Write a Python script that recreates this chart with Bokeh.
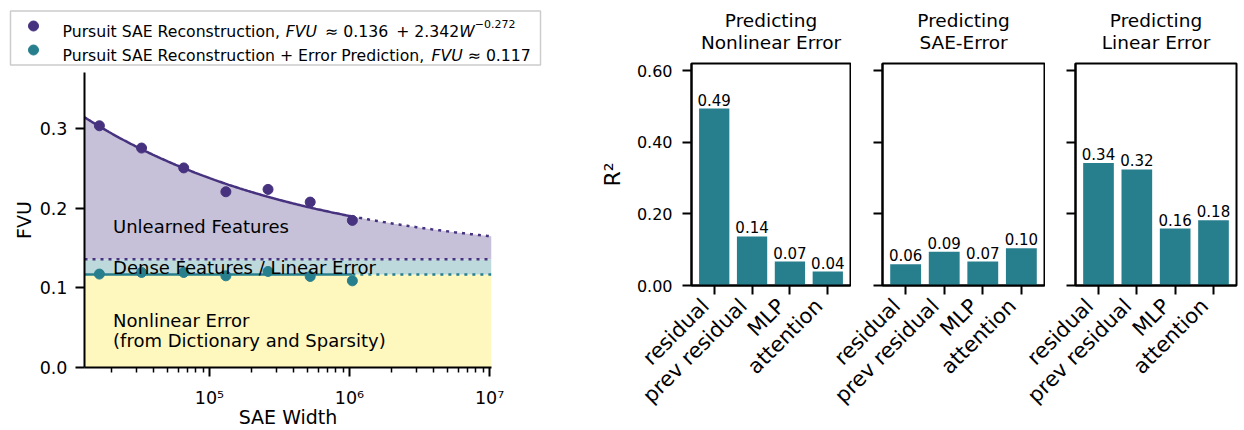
import numpy as np
from bokeh.plotting import figure
from bokeh.layouts import row, column
from bokeh.models import (Range1d, FixedTicker, NumeralTickFormatter,
                          CustomJSTickFormatter, LinearAxis)
from bokeh.core.properties import value
from bokeh.embed import file_html
from bokeh.resources import INLINE

# ---------------- data ----------------
sae_widths = [16384, 32768, 65536, 131072, 262144, 524288, 1048576]
fvu_sae = [0.304, 0.276, 0.251, 0.221, 0.224, 0.208, 0.185]
fvu_sae_err = [0.1175, 0.1195, 0.1195, 0.1153, 0.1208, 0.1145, 0.109]
fit_offset = 0.136
fit_coef = 2.342
fit_exp = -0.272
err_level = 0.117
x_min, x_max = 12823, 1.033e7

region_labels = ["Unlearned Features", "Dense Features / Linear Error",
                 "Nonlinear Error", "(from Dictionary and Sparsity)"]
region_label_y = [0.177, 0.1255, 0.0596, 0.0336]
region_label_x = 2.05e4

predictors = ["residual", "prev residual", "MLP", "attention"]
panel_titles = [("Predicting", "Nonlinear Error"), ("Predicting", "SAE-Error"),
                ("Predicting", "Linear Error")]
r2_nonlinear = [0.494, 0.137, 0.067, 0.039]
r2_sae_error = [0.059, 0.094, 0.067, 0.104]
r2_linear = [0.342, 0.324, 0.159, 0.182]

# ---------------- styles ----------------
FNAME = "DejaVu Sans"
FONT = value(FNAME)
PURPLE = "#46327e"
TEAL = "#277f8e"
FILL_PURPLE = "#c6c0d9"
FILL_TEAL = "#bed9dc"
FILL_YELLOW = "#fef7be"

CW = {' ': 0.318, ',': 0.318, '.': 0.318, '+': 0.838, '≈': 0.838, '−': 0.838,
      'P': 0.603, 'u': 0.634, 'r': 0.411, 's': 0.521, 'i': 0.278, 't': 0.392,
      'S': 0.635, 'A': 0.684, 'E': 0.632, 'R': 0.695, 'e': 0.615, 'c': 0.550,
      'o': 0.612, 'n': 0.634, 'd': 0.635, 'F': 0.575, 'V': 0.684, 'U': 0.732,
      'W': 0.989}
for _d in "0123456789":
    CW[_d] = 0.636


def tw(s, fs):
    return sum(CW.get(c, 0.6) for c in s) * fs


# ---------------- legend ----------------
leg = figure(width=560, height=70, x_range=Range1d(0, 560), y_range=Range1d(70, 0),
             output_backend="svg", toolbar_location=None,
             x_axis_type=None, y_axis_type=None, min_border=0)
leg.outline_line_color = None
leg.quad(left=[10], right=[540], top=[10.5], bottom=[64.5], fill_color="white",
         line_color="#cccccc", line_width=1.5)
leg.scatter(x=[33, 33], y=[25.5, 49.5], size=10, color=[PURPLE, TEAL])

LFS = 15.7
line1 = [("Pursuit SAE Reconstruction, ", "normal", LFS, 0, 0),
         ("FVU", "italic", LFS, 0, 0),
         (f" ≈ {fit_offset:.3f}", "normal", LFS, 0, 3),
         (f" + {fit_coef:.3f}", "normal", LFS, 0, 3),
         ("W", "italic", LFS, 0, 0),
         (f"−{abs(fit_exp):.3f}", "normal", LFS * 0.7, -7, 0)]
line2 = [("Pursuit SAE Reconstruction + Error Prediction, ", "normal", LFS, 0, 0),
         ("FVU", "italic", LFS, 0, 0),
         (f" ≈ {err_level:.3f}", "normal", LFS, 0, 0)]
for pieces, base in [(line1, 30.8), (line2, 55.0)]:
    x = 62.0
    for s, style, fs, dy, extra in pieces:
        lead = len(s) - len(s.lstrip(" "))
        txt = s.strip(" ")
        leg.text(x=[x + tw(" " * lead, fs) + extra], y=[base + dy], text=[txt],
                 text_font=FONT, text_font_style=style, text_font_size=f"{fs}px",
                 text_baseline="alphabetic", text_align="left", text_color="black")
        x += tw(s, fs) + extra

# ---------------- left plot ----------------
left = figure(width=560, height=360, x_axis_type="log",
              x_range=Range1d(x_min, x_max), y_range=Range1d(0, 0.371),
              output_backend="svg", toolbar_location=None,
              min_border_left=84, min_border_right=69, min_border_top=2,
              min_border_bottom=63)
left.outline_line_color = None
left.xgrid.visible = False
left.ygrid.visible = False

W = np.geomspace(x_min, x_max, 300)
curve = fit_offset + fit_coef * W ** fit_exp
w_last = max(sae_widths)

left.varea(x=[x_min, x_max], y1=[0, 0], y2=[err_level, err_level], fill_color=FILL_YELLOW)
left.varea(x=[x_min, x_max], y1=[err_level, err_level], y2=[fit_offset, fit_offset],
           fill_color=FILL_TEAL)
left.varea(x=W, y1=np.full_like(W, fit_offset), y2=curve, fill_color=FILL_PURPLE)

left.line([x_min, x_max], [fit_offset, fit_offset], line_color=PURPLE, line_width=2.5,
          line_dash="3 5")
solid = W <= w_last
left.line(W[solid], curve[solid], line_color=PURPLE, line_width=2.5)
dot = W >= w_last * 0.98
left.line(W[dot], curve[dot], line_color=PURPLE, line_width=2.5, line_dash="3 5")
left.line([x_min, w_last], [err_level, err_level], line_color=TEAL, line_width=2.5)
left.line([w_last, x_max], [err_level, err_level], line_color=TEAL, line_width=2.5,
          line_dash="3 5")

left.scatter(sae_widths, fvu_sae, size=10, color=PURPLE)
left.scatter(sae_widths, fvu_sae_err, size=10, color=TEAL)

left.text(x=[region_label_x] * len(region_labels), y=region_label_y, text=region_labels,
          text_font=FONT, text_font_size="18px", text_baseline="middle",
          text_align="left", text_color="black")

xa = left.xaxis[0]
xa.ticker = FixedTicker(ticks=[1e5, 1e6, 1e7],
                        minor_ticks=[k * 10 ** n for n in (4, 5, 6) for k in range(2, 10)])
xa.formatter = CustomJSTickFormatter(code="""
const sup = {'0':'\u2070','1':'\u00b9','2':'\u00b2','3':'\u00b3','4':'\u2074',
             '5':'\u2075','6':'\u2076','7':'\u2077','8':'\u2078','9':'\u2079'};
const e = Math.round(Math.log10(tick));
return '10' + String(e).split('').map(c => sup[c]).join('');
""")
xa.axis_label = "SAE Width"
xa.axis_label_standoff = -5
xa.major_label_standoff = 11
ya = left.yaxis[0]
ya.ticker = FixedTicker(ticks=[0, 0.1, 0.2, 0.3], minor_ticks=[])
ya.formatter = NumeralTickFormatter(format="0.0")
ya.axis_label = "FVU"
ya.axis_label_standoff = 2
ya.major_label_standoff = 8
for ax in (xa, ya):
    ax.axis_line_width = 2
    ax.axis_line_color = "black"
    ax.major_tick_line_width = 2
    ax.major_tick_out = 9
    ax.major_tick_in = 0
    ax.minor_tick_out = 5
    ax.minor_tick_in = 0
    ax.minor_tick_line_width = 1.5
    ax.major_label_text_font = FNAME
    ax.major_label_text_font_size = "17.5px"
    ax.major_label_text_color = "black"
    ax.axis_label_text_font = FNAME
    ax.axis_label_text_font_size = "19px"
    ax.axis_label_text_font_style = "normal"
    ax.axis_label_text_color = "black"


# ---------------- bar panels ----------------
LABEL_SHIFT = 0.23   # rotated labels end at the tick, like right-aligned rotated text
TITLE_H = 62
PANEL_H = 430 - TITLE_H
OV = 26
# (figure width, left border, right border) for each panel
panel_geom = [(291, 131, 1), (194 + OV, 31 + OV, 1), (199 + OV, 30 + OV, 8)]


def bar_panel(vals, width, b_left, b_right, first, overlap):
    p = figure(width=width, height=PANEL_H, x_range=Range1d(-0.6, 3.6),
               y_range=Range1d(0, 0.62), output_backend="svg",
               toolbar_location=None, min_border_left=b_left, min_border_right=b_right,
               min_border_top=1, min_border_bottom=145)
    if overlap:
        p.styles = {"margin-left": f"-{overlap}px"}
        p.border_fill_alpha = 0
    else:
        p.border_fill_color = "white"
    p.background_fill_color = "white"
    p.xgrid.visible = False
    p.ygrid.visible = False
    p.outline_line_color = "black"
    p.outline_line_width = 2
    p.outline_line_alpha = 1
    xs = list(range(len(predictors)))
    p.vbar(x=xs, top=vals, width=0.8, fill_color=TEAL, line_color=None)
    p.text(x=xs, y=vals, text=[f"{v:.2f}" for v in vals], text_font=FONT,
           text_font_size="15px", text_align="center", text_baseline="bottom",
           y_offset=-3, text_color="black")
    xa = p.xaxis[0]
    xa.ticker = FixedTicker(ticks=xs, minor_ticks=[])
    xa.formatter = CustomJSTickFormatter(code="return '';")
    xa.major_label_text_font_size = "1px"
    xa.major_label_standoff = 0
    lab_axis = LinearAxis(
        ticker=FixedTicker(ticks=[i - LABEL_SHIFT for i in xs], minor_ticks=[]),
        formatter=CustomJSTickFormatter(args=dict(labels=predictors, shift=LABEL_SHIFT),
                                        code="return labels[Math.round(tick + shift)];"),
        axis_line_color=None, major_tick_line_color=None, minor_tick_line_color=None,
        major_tick_out=0, major_tick_in=0, minor_tick_out=0, minor_tick_in=0,
        major_label_orientation=np.pi / 4, major_label_text_font=FNAME,
        major_label_text_font_size="21px", major_label_text_color="black",
        major_label_standoff=8)
    p.add_layout(lab_axis, "below")
    ya = p.yaxis[0]
    ya.ticker = FixedTicker(ticks=[0, 0.2, 0.4, 0.6], minor_ticks=[])
    if first:
        ya.formatter = NumeralTickFormatter(format="0.00")
        ya.axis_label = "R²"
        ya.axis_label_text_font = FNAME
        ya.axis_label_text_font_size = "22px"
        ya.axis_label_text_font_style = "normal"
        ya.axis_label_text_color = "black"
        ya.axis_label_standoff = 9
        ya.major_label_standoff = 10
    else:
        ya.formatter = CustomJSTickFormatter(code="return '';")
    ya.major_label_text_font_size = "16px"
    for ax in (xa, ya):
        ax.axis_line_width = 2
        ax.axis_line_color = "black"
        ax.major_tick_line_width = 2
        ax.major_tick_out = 9
        ax.major_tick_in = 0
        ax.minor_tick_out = 0
        ax.minor_tick_in = 0
        ax.major_label_text_font = FNAME
        ax.major_label_text_color = "black"
    return p


panels = []
for i, vals in enumerate([r2_nonlinear, r2_sae_error, r2_linear]):
    w, bl, br = panel_geom[i]
    panels.append(bar_panel(vals, w, bl, br, i == 0, OV if i else 0))

# frame centres of the three panels, in the right-hand block's pixels
centres = []
x0 = 0
for i, (w, bl, br) in enumerate(panel_geom):
    if i:
        x0 -= OV
    centres.append(x0 + bl + (w - bl - br) / 2)
    x0 += w
right_w = x0

titles = figure(width=right_w, height=TITLE_H, x_range=Range1d(0, right_w),
                y_range=Range1d(TITLE_H, 0), output_backend="svg", toolbar_location=None,
                x_axis_type=None, y_axis_type=None, min_border=0)
titles.outline_line_color = None
titles.background_fill_color = "white"
titles.border_fill_color = "white"
titles.text(x=centres, y=[20] * 3, text=[t[0] for t in panel_titles], text_font=FONT,
            text_font_size="18.5px", text_align="center", text_baseline="middle",
            text_color="black")
titles.text(x=centres, y=[42] * 3, text=[t[1] for t in panel_titles], text_font=FONT,
            text_font_size="18.5px", text_align="center", text_baseline="middle",
            text_color="black")

for f in (left, leg):
    f.background_fill_color = "white"
    f.border_fill_color = "white"

layout = row(column(row(leg), row(left)),
             column(row(titles), row(*panels)))
open("out.html", "w").write(file_html(layout, INLINE))
